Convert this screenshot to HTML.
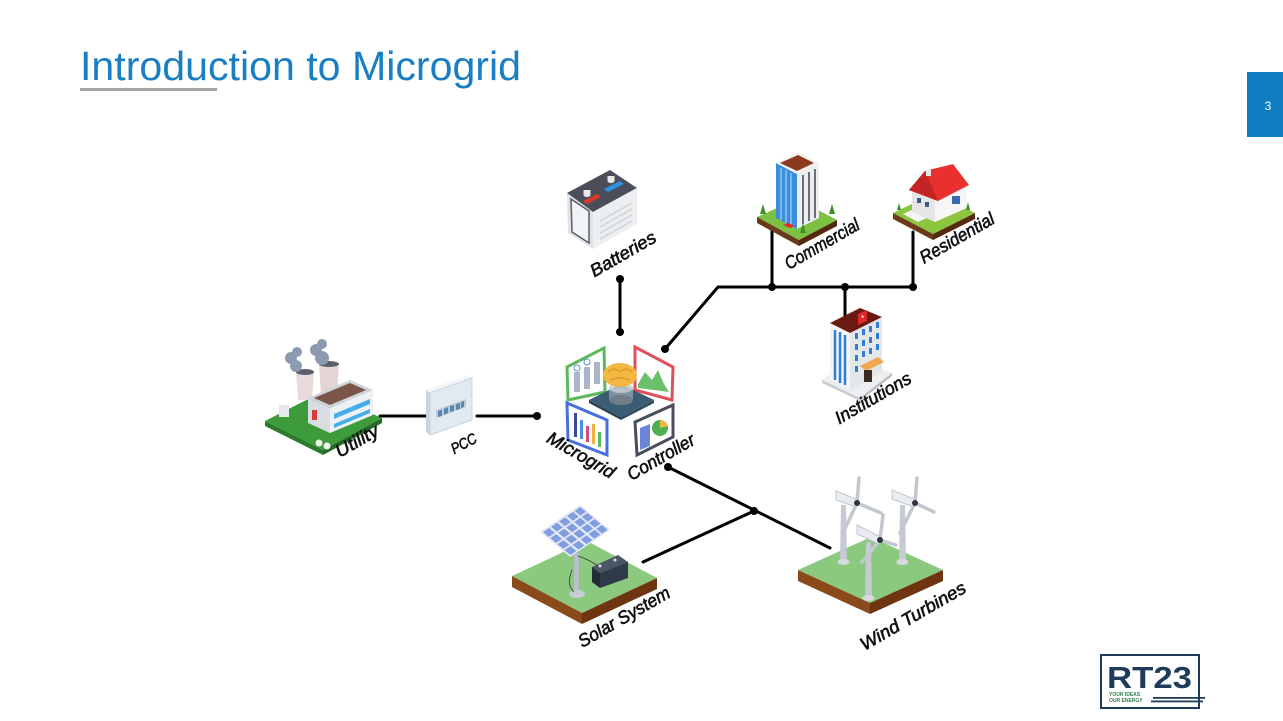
<!DOCTYPE html>
<html><head><meta charset="utf-8"><style>
html,body{margin:0;padding:0;background:#fff;}
svg{display:block;}
.lb{font-family:"Liberation Sans",sans-serif;font-style:italic;font-size:18px;fill:#111;stroke:#111;stroke-width:0.6;}
</style></head><body>
<svg width="1283" height="721" viewBox="0 0 1283 721" xmlns="http://www.w3.org/2000/svg">
<rect width="1283" height="721" fill="#fff"/>
<!-- title -->
<text x="80" y="80" font-family="Liberation Sans, sans-serif" font-size="41" fill="#1a7fc2" textLength="441" lengthAdjust="spacingAndGlyphs">Introduction to Microgrid</text>
<rect x="80" y="88" width="137" height="3" fill="#a6a6a6"/>
<rect x="1247" y="72" width="36" height="65" fill="#0f7dc2"/>
<text x="1268" y="110" font-family="Liberation Sans, sans-serif" font-size="12" fill="#fff" text-anchor="middle">3</text>

<!-- connectors -->
<g stroke="#000" stroke-width="3" fill="none" stroke-linecap="round">
<line x1="380" y1="416" x2="430" y2="416"/>
<line x1="477" y1="416" x2="537" y2="416"/>
<line x1="620" y1="279" x2="620" y2="332"/>
<polyline points="665,349 718,287 913,287"/>
<line x1="772" y1="228" x2="772" y2="287"/>
<line x1="913" y1="232" x2="913" y2="287"/>
<line x1="845" y1="287" x2="845" y2="318"/>
<line x1="668" y1="467" x2="830" y2="548"/>
<line x1="754" y1="511" x2="643" y2="562"/>
</g>
<g fill="#000">
<circle cx="537" cy="416" r="4"/>
<circle cx="620" cy="279" r="4"/>
<circle cx="620" cy="332" r="4"/>
<circle cx="665" cy="349" r="4"/>
<circle cx="772" cy="287" r="4"/>
<circle cx="845" cy="287" r="4"/>
<circle cx="913" cy="287" r="4"/>
<circle cx="668" cy="467" r="4"/>
<circle cx="754" cy="511" r="4"/>
</g>

<!-- Utility -->
<g>
<polygon points="265,421 322,392 382,418 323,450" fill="#3e9b3c"/>
<polygon points="265,421 323,450 323,455 265,426" fill="#2c7a2c"/>
<polygon points="323,450 382,418 382,423 323,455" fill="#236b26"/>
<rect x="279" y="405" width="10" height="12" fill="#e6e9ec"/>
<polygon points="296,372 314,372 312,400 298,400" fill="#e8dada"/>
<ellipse cx="305" cy="372" rx="9" ry="3" fill="#5a5f6a"/>
<polygon points="319,364 339,364 337,394 321,394" fill="#e4d4d4"/>
<ellipse cx="329" cy="364" rx="10" ry="3" fill="#5a5f6a"/>
<g fill="#8d9bb0">
<circle cx="296" cy="366" r="6"/><circle cx="291" cy="358" r="6"/><circle cx="297" cy="352" r="5"/>
<circle cx="322" cy="358" r="7"/><circle cx="316" cy="350" r="6"/><circle cx="322" cy="344" r="5"/>
</g>
<polygon points="308,398 330,408 330,433 308,423" fill="#d8dde3"/>
<rect x="312" y="410" width="5" height="10" fill="#d83a3a"/>
<polygon points="330,408 373,390 373,415 330,433" fill="#eef1f4"/>
<polygon points="334,414 370,399 370,404 334,419" fill="#44aee6"/>
<polygon points="334,424 370,409 370,413 334,428" fill="#44aee6"/>
<polygon points="308,398 350,380 373,390 330,408" fill="#cfd4da"/>
<polygon points="314,398 350,383 366,390 330,405" fill="#7a5548"/>
<circle cx="319" cy="443" r="3.5" fill="#f2efe6"/><circle cx="327" cy="446" r="3.5" fill="#f2efe6"/>
</g>

<!-- PCC -->
<g>
<polygon points="426,390 468,375 472,378 430,393" fill="#f2f6f8"/>
<polygon points="426,390 430,393 430,435 426,432" fill="#c9d5de"/>
<polygon points="430,393 472,378 472,420 430,435" fill="#e2eaf1" stroke="#c8d4dd" stroke-width="1"/>
<polygon points="436,410 466,399 466,407 436,418" fill="#bccbd9"/>
<g fill="#5a86ad">
<polygon points="438,411 442,410 442,416 438,417"/>
<polygon points="444,409 448,407 448,413 444,415"/>
<polygon points="450,406 454,405 454,411 450,412"/>
<polygon points="456,404 460,403 460,409 456,410"/>
<polygon points="461,402 464,401 464,407 461,408"/>
</g>
</g>

<!-- Controller -->
<g>
<polygon points="567,367 604,348 605,392 568,400" fill="#fff" stroke="#5cb85c" stroke-width="3"/>
<rect x="574" y="372" width="6" height="20" fill="#aab6c8"/><rect x="584" y="367" width="6" height="22" fill="#aab6c8"/><rect x="594" y="362" width="6" height="22" fill="#aab6c8"/>
<circle cx="577" cy="368" r="3" fill="none" stroke="#5b8fd0"/><circle cx="587" cy="362" r="3" fill="none" stroke="#5b8fd0"/>
<polygon points="635,347 673,367 672,400 635,390" fill="#fff" stroke="#e0505a" stroke-width="3"/>
<polygon points="638,384 645,372 652,380 658,370 664,384 669,392 638,388" fill="#6cc06c"/>
<polygon points="567,403 607,420 607,455 568,440" fill="#fff" stroke="#4a6ee0" stroke-width="3"/>
<rect x="574" y="413" width="3" height="24" fill="#3a4a9a"/><rect x="580" y="420" width="3" height="19" fill="#4a90e0"/><rect x="586" y="426" width="3" height="16" fill="#e04a6a"/><rect x="592" y="424" width="3" height="20" fill="#f0b040"/><rect x="598" y="432" width="3" height="15" fill="#5cb85c"/>
<polygon points="635,422 673,405 673,437 637,455" fill="#fff" stroke="#4a4e5a" stroke-width="3"/>
<polygon points="640,428 650,424 650,446 640,450" fill="#6a84d8"/>
<circle cx="660" cy="428" r="8" fill="#4cb050"/><path d="M660,428 L660,420 A8,8 0 0 1 668,426 Z" fill="#f0b848"/>
<polygon points="589,400 621,384 654,400 621,417" fill="#3b5d74"/>
<polygon points="589,400 621,417 621,420 589,403" fill="#2a4556"/>
<polygon points="621,417 654,400 654,403 621,420" fill="#2d4b5e"/>
<rect x="609" y="388" width="24" height="12" fill="#9aa9b4" opacity="0.7"/>
<ellipse cx="621" cy="400" rx="12" ry="5" fill="#6f7e88"/>
<ellipse cx="621" cy="388" rx="12" ry="5" fill="#c7d0d6" opacity="0.8"/>
<ellipse cx="620" cy="375" rx="17" ry="12" fill="#f3b743"/>
<path d="M608,372 Q614,366 620,372 Q626,366 632,372 M610,380 Q620,376 630,380" stroke="#e29a22" stroke-width="1.5" fill="none"/>
</g>

<!-- Batteries -->
<g>
<polygon points="567,193 610,170 637,188 593,212" fill="#4a4e5a"/>
<polygon points="567,193 593,212 593,249 568,233" fill="#dfe2e6"/>
<polygon points="571,199 589,211 589,243 572,232" fill="#f2f3f5" stroke="#5a5e68" stroke-width="1.5"/>
<polygon points="593,212 637,188 637,224 593,249" fill="#eceef0"/>
<g stroke="#cfd3d8" stroke-width="1.5">
<line x1="600" y1="221" x2="632" y2="203"/><line x1="600" y1="227" x2="632" y2="209"/><line x1="600" y1="233" x2="632" y2="215"/><line x1="600" y1="239" x2="632" y2="221"/>
</g>
<polygon points="583,201 597,194 601,197 587,204" fill="#d83a2c"/>
<polygon points="604,189 620,181 624,184 608,192" fill="#2f8fe0"/>
<ellipse cx="587" cy="195" rx="3.5" ry="2" fill="#e8e8e8"/><rect x="583.5" y="190" width="7" height="5" fill="#e8e8e8"/>
<ellipse cx="611" cy="181" rx="3.5" ry="2" fill="#e8e8e8"/><rect x="607.5" y="176" width="7" height="5" fill="#e8e8e8"/>
</g>

<!-- Commercial -->
<g>
<polygon points="757,217 797,199 837,220 799,240" fill="#7cc142"/>
<polygon points="757,217 799,240 799,246 757,223" fill="#6b3a1a"/>
<polygon points="799,240 837,220 837,226 799,246" fill="#54290f"/>
<polygon points="776,163 797,174 797,229 776,218" fill="#3a8ee0"/>
<g stroke="#bfe0fb" stroke-width="1"><line x1="781" y1="168" x2="781" y2="220"/><line x1="786" y1="170" x2="786" y2="223"/><line x1="791" y1="173" x2="791" y2="226"/></g>
<polygon points="797,174 819,163 819,218 797,229" fill="#eeeeee"/>
<g stroke="#4a4e5a" stroke-width="1.6"><line x1="803" y1="175" x2="803" y2="224"/><line x1="809" y1="172" x2="809" y2="221"/><line x1="815" y1="169" x2="815" y2="218"/></g>
<polygon points="776,163 798,152 819,163 797,174" fill="#f2f2f2"/>
<polygon points="780,163 798,155 814,163 797,171" fill="#8b3a20"/>
<polygon points="783,225 790,228 795,226 788,223" fill="#e02a2a"/>
<polygon points="760,214 763,204 766,214" fill="#3c8f2a"/><polygon points="829,214 832,204 835,214" fill="#3c8f2a"/><polygon points="800,233 803,223 806,233" fill="#3c8f2a"/>
</g>

<!-- Residential -->
<g>
<polygon points="893,213 935,193 975,213 933,234" fill="#8cc63f"/>
<polygon points="893,213 933,234 933,240 893,219" fill="#6b3a1a"/>
<polygon points="933,234 975,213 975,219 933,240" fill="#54290f"/>
<polygon points="903,214 925,204 940,212 918,222" fill="#f4f4f4"/>
<polygon points="912,190 935,200 935,222 912,212" fill="#e6e6e6"/>
<polygon points="935,200 967,186 967,208 935,222" fill="#f6f6f6"/>
<rect x="917" y="198" width="4" height="5" fill="#3a5a8a"/><rect x="925" y="202" width="4" height="5" fill="#3a5a8a"/>
<rect x="952" y="196" width="8" height="8" fill="#3a6ab0"/>
<polygon points="909,190 925,171 953,164 969,185 938,201" fill="#e8312f"/>
<polygon points="909,190 925,171 938,201" fill="#c42424"/>
<rect x="926" y="170" width="5" height="6" fill="#e6e6e6"/>
<polygon points="897,210 899,203 901,210" fill="#3c8f2a"/><polygon points="966,210 968,202 970,210" fill="#3c8f2a"/>
</g>

<!-- Institutions -->
<g>
<polygon points="822,380 853,357 892,373 860,398" fill="#eceeef"/>
<polygon points="822,380 860,398 860,401 822,383" fill="#c9ccd0"/>
<polygon points="860,398 892,373 892,376 860,401" fill="#b8bcc1"/>
<polygon points="830,323 850,333 850,390 830,380" fill="#f2f4f6"/>
<g stroke="#2f7fd6" stroke-width="2.5"><line x1="835" y1="330" x2="835" y2="380"/><line x1="840" y1="332" x2="840" y2="383"/><line x1="845" y1="335" x2="845" y2="385"/></g>
<polygon points="850,333 882,317 882,372 850,390" fill="#e4e7ea"/>
<g fill="#2f7fd6">
<rect x="855" y="333" width="3" height="6"/><rect x="862" y="329" width="3" height="6"/><rect x="869" y="326" width="3" height="6"/><rect x="876" y="322" width="3" height="6"/>
<rect x="855" y="344" width="3" height="6"/><rect x="862" y="340" width="3" height="6"/><rect x="869" y="337" width="3" height="6"/><rect x="876" y="333" width="3" height="6"/>
<rect x="855" y="355" width="3" height="6"/><rect x="862" y="351" width="3" height="6"/><rect x="869" y="348" width="3" height="6"/><rect x="876" y="344" width="3" height="6"/>
<rect x="855" y="366" width="3" height="6"/>
</g>
<polygon points="830,323 860,308 882,317 850,333" fill="#6a1a10"/>
<polygon points="858,314 867,310 867,321 858,325" fill="#e02a2a"/>
<text x="862.5" y="321" font-family="Liberation Sans, sans-serif" font-size="8" fill="#fff" text-anchor="middle">*</text>
<polygon points="860,366 878,357 884,362 866,371" fill="#f0a850"/>
<rect x="864" y="370" width="8" height="12" fill="#3a2a20"/>
</g>

<!-- Solar -->
<g>
<polygon points="512,576 587,541 657,578 582,613" fill="#8bc97f"/>
<polygon points="512,576 582,613 582,624 512,587" fill="#8b4a1c"/>
<polygon points="582,613 657,578 657,589 582,624" fill="#6e3510"/>
<rect x="574" y="553" width="5" height="40" fill="#b8bec8"/>
<ellipse cx="577" cy="594" rx="8" ry="4" fill="#c8cdd4"/>
<g transform="matrix(40,-27,30,25,540,532)">
<rect x="0" y="0" width="1" height="1" fill="#e2e8f5"/>
<g fill="#7f9de0">
<rect x="0.04" y="0.05" width="0.15" height="0.19"/><rect x="0.24" y="0.05" width="0.15" height="0.19"/><rect x="0.44" y="0.05" width="0.15" height="0.19"/><rect x="0.64" y="0.05" width="0.15" height="0.19"/><rect x="0.83" y="0.05" width="0.14" height="0.19"/>
<rect x="0.04" y="0.29" width="0.15" height="0.19"/><rect x="0.24" y="0.29" width="0.15" height="0.19"/><rect x="0.44" y="0.29" width="0.15" height="0.19"/><rect x="0.64" y="0.29" width="0.15" height="0.19"/><rect x="0.83" y="0.29" width="0.14" height="0.19"/>
<rect x="0.04" y="0.53" width="0.15" height="0.19"/><rect x="0.24" y="0.53" width="0.15" height="0.19"/><rect x="0.44" y="0.53" width="0.15" height="0.19"/><rect x="0.64" y="0.53" width="0.15" height="0.19"/><rect x="0.83" y="0.53" width="0.14" height="0.19"/>
<rect x="0.04" y="0.77" width="0.15" height="0.19"/><rect x="0.24" y="0.77" width="0.15" height="0.19"/><rect x="0.44" y="0.77" width="0.15" height="0.19"/><rect x="0.64" y="0.77" width="0.15" height="0.19"/><rect x="0.83" y="0.77" width="0.14" height="0.19"/>
</g>
</g>
<path d="M578,556 Q590,560 598,566 M572,570 Q566,585 574,592" stroke="#333" stroke-width="0.8" fill="none"/>
<polygon points="592,567 618,555 628,562 600,573" fill="#4a5668"/>
<polygon points="592,567 600,573 600,588 592,582" fill="#232b36"/>
<polygon points="600,573 628,562 628,578 600,588" fill="#2f3a48"/>
<circle cx="600" cy="566" r="1.5" fill="#ddd"/><circle cx="615" cy="560" r="1.5" fill="#ddd"/>
</g>

<!-- Wind -->
<g>
<polygon points="798,570 871,537 943,570 870,603" fill="#8bc97f"/>
<polygon points="798,570 870,603 870,614 798,581" fill="#8b4a1c"/>
<polygon points="870,603 943,570 943,581 870,614" fill="#6e3510"/>
<g fill="#c5cad3">
<polygon points="841,505 846,505 847,562 840,562"/>
<polygon points="900,505 905,505 906,562 899,562"/>
<polygon points="866,542 871,542 872,598 865,598"/>
</g>
<g fill="#d6dae0"><ellipse cx="843.5" cy="562" rx="6" ry="3"/><ellipse cx="902.5" cy="562" rx="6" ry="3"/><ellipse cx="868.5" cy="598" rx="6" ry="3"/></g>
<g stroke="#c3c8d0" stroke-width="3.5" stroke-linecap="round">
<line x1="857" y1="503" x2="859" y2="478"/><line x1="857" y1="503" x2="843" y2="533"/><line x1="857" y1="503" x2="881" y2="513"/>
<line x1="915" y1="503" x2="917" y2="478"/><line x1="915" y1="503" x2="900" y2="533"/><line x1="915" y1="503" x2="934" y2="512"/>
<line x1="880" y1="540" x2="883" y2="515"/><line x1="880" y1="540" x2="862" y2="562"/><line x1="880" y1="540" x2="896" y2="545"/>
</g>
<g fill="#e8ebef" stroke="#c3c8d0" stroke-width="1">
<polygon points="836,491 856,499 856,507 836,500"/>
<polygon points="892,490 914,499 914,507 892,499"/>
<polygon points="857,525 879,536 879,544 857,534"/>
</g>
<g fill="#2e3440"><circle cx="857" cy="503" r="3"/><circle cx="915" cy="503" r="3"/><circle cx="880" cy="540" r="3"/></g>
</g>

<!-- labels -->
<text class="lb" x="623" y="254" transform="rotate(-30 623 254)" text-anchor="middle" dominant-baseline="central" textLength="73" lengthAdjust="spacingAndGlyphs">Batteries</text>
<text class="lb" x="822" y="244" transform="rotate(-30 822 244)" text-anchor="middle" dominant-baseline="central" textLength="83" lengthAdjust="spacingAndGlyphs">Commercial</text>
<text class="lb" x="957" y="238" transform="rotate(-30 957 238)" text-anchor="middle" dominant-baseline="central" textLength="83" lengthAdjust="spacingAndGlyphs">Residential</text>
<text class="lb" x="873" y="398" transform="rotate(-30 873 398)" text-anchor="middle" dominant-baseline="central" textLength="85" lengthAdjust="spacingAndGlyphs">Institutions</text>
<text class="lb" x="357" y="441" transform="rotate(-30 357 441)" text-anchor="middle" dominant-baseline="central" textLength="47" lengthAdjust="spacingAndGlyphs">Utility</text>
<text class="lb" x="464" y="444" transform="rotate(-28 464 444)" text-anchor="middle" dominant-baseline="central" textLength="27" lengthAdjust="spacingAndGlyphs" style="font-size:15px">PCC</text>
<text class="lb" x="581" y="455" transform="rotate(30 581 455)" text-anchor="middle" dominant-baseline="central" textLength="75" lengthAdjust="spacingAndGlyphs">Microgrid</text>
<text class="lb" x="661" y="457" transform="rotate(-30 661 457)" text-anchor="middle" dominant-baseline="central" textLength="75" lengthAdjust="spacingAndGlyphs">Controller</text>
<text class="lb" x="624" y="617" transform="rotate(-30 624 617)" text-anchor="middle" dominant-baseline="central" textLength="103" lengthAdjust="spacingAndGlyphs">Solar System</text>
<text class="lb" x="913" y="616" transform="rotate(-30 913 616)" text-anchor="middle" dominant-baseline="central" textLength="119" lengthAdjust="spacingAndGlyphs">Wind Turbines</text>

<!-- RT23 logo -->
<g>
<rect x="1101" y="655" width="98" height="53" fill="#fff" stroke="#1f3b5c" stroke-width="2"/>
<text x="1107" y="688" font-family="Liberation Sans, sans-serif" font-weight="bold" font-size="31" fill="#1f3b5c" textLength="85" lengthAdjust="spacingAndGlyphs">RT23</text>
<text x="1109" y="696" font-family="Liberation Sans, sans-serif" font-weight="bold" font-size="5" fill="#2e7d4a">YOUR IDEAS</text>
<text x="1109" y="702" font-family="Liberation Sans, sans-serif" font-weight="bold" font-size="5" fill="#2e7d4a">OUR ENERGY</text>
<rect x="1153" y="697" width="52" height="1.8" fill="#1f3b5c"/>
<rect x="1151" y="700.5" width="52" height="1.8" fill="#1f3b5c"/>
</g>
</svg>
</body></html>
